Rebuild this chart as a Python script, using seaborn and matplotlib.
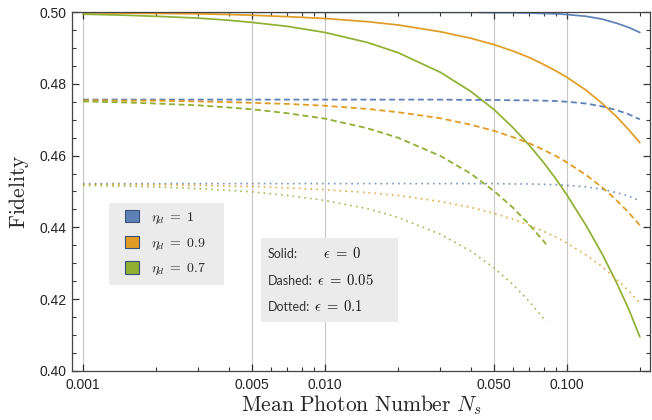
import numpy as np
import pandas as pd
import matplotlib
matplotlib.use("Agg")
import matplotlib.pyplot as plt
import seaborn as sns
from matplotlib.patches import Patch, Rectangle
from matplotlib.ticker import FixedLocator, FixedFormatter, NullFormatter

# ---------------- data ----------------
N_full = [0.001, 0.0015, 0.002, 0.003, 0.004, 0.005, 0.007, 0.01, 0.015, 0.02, 0.03, 0.04,
          0.05, 0.06, 0.07, 0.08, 0.09, 0.1, 0.12, 0.14, 0.16, 0.18, 0.2]
N_short = [0.001, 0.0015, 0.002, 0.003, 0.004, 0.005, 0.007, 0.01, 0.015, 0.02, 0.03, 0.04,
           0.05, 0.06, 0.07, 0.08, 0.082]

# eps = 0 (solid)
F_eta1_eps0 = [0.4999, 0.4999, 0.4999, 0.4999, 0.4999, 0.4999, 0.4999, 0.4999, 0.4999, 0.4999, 0.4999, 0.4999,
               0.4998, 0.4998, 0.4997, 0.4996, 0.4995, 0.4993, 0.4988, 0.4980, 0.4969, 0.4957, 0.4943]
F_eta09_eps0 = [0.4998, 0.4997, 0.4996, 0.4995, 0.4993, 0.4991, 0.4987, 0.4982, 0.4973, 0.4964, 0.4945, 0.4927,
                0.4909, 0.4891, 0.4873, 0.4854, 0.4836, 0.4818, 0.4782, 0.4745, 0.4709, 0.4672, 0.4636]
F_eta07_eps0 = [0.4994, 0.4991, 0.4988, 0.4983, 0.4977, 0.4971, 0.4960, 0.4943, 0.4915, 0.4887, 0.4832, 0.4779,
                0.4728, 0.4677, 0.4628, 0.4581, 0.4535, 0.4490, 0.4405, 0.4325, 0.4247, 0.4172, 0.4095]
# eps = 0.05 (dashed)
F_eta1_eps005 = [0.4756, 0.4756, 0.4756, 0.4756, 0.4756, 0.4756, 0.4756, 0.4756, 0.4756, 0.4756, 0.4756, 0.4755,
                 0.4755, 0.4754, 0.4754, 0.4753, 0.4752, 0.4750, 0.4745, 0.4737, 0.4727, 0.4715, 0.4701]
F_eta09_eps005 = [0.4754, 0.4753, 0.4753, 0.4751, 0.4749, 0.4747, 0.4744, 0.4739, 0.4730, 0.4721, 0.4704, 0.4686,
                  0.4669, 0.4651, 0.4634, 0.4616, 0.4599, 0.4581, 0.4546, 0.4511, 0.4476, 0.4441, 0.4406]
F_eta07_eps005 = [0.4751, 0.4748, 0.4745, 0.4740, 0.4734, 0.4729, 0.4718, 0.4703, 0.4676, 0.4650, 0.4599, 0.4550,
                  0.4501, 0.4454, 0.4407, 0.4362, 0.4353]
# eps = 0.1 (dotted)
F_eta1_eps01 = [0.4522, 0.4522, 0.4522, 0.4522, 0.4522, 0.4522, 0.4522, 0.4522, 0.4522, 0.4522, 0.4522, 0.4522,
                0.4522, 0.4521, 0.4521, 0.4520, 0.4519, 0.4517, 0.4513, 0.4506, 0.4497, 0.4487, 0.4474]
F_eta09_eps01 = [0.4520, 0.4520, 0.4519, 0.4517, 0.4515, 0.4514, 0.4510, 0.4505, 0.4497, 0.4489, 0.4472, 0.4456,
                 0.4439, 0.4422, 0.4406, 0.4389, 0.4373, 0.4356, 0.4323, 0.4290, 0.4256, 0.4223, 0.4190]
F_eta07_eps01 = [0.4517, 0.4515, 0.4513, 0.4508, 0.4503, 0.4499, 0.4489, 0.4475, 0.4452, 0.4428, 0.4381, 0.4334,
                 0.4287, 0.4240, 0.4193, 0.4146, 0.4137]

eta_labels = ["1", "0.9", "0.7"]
eps_labels = ["0", "0.05", "0.1"]
colors = ["#5E81B5", "#E19C24", "#8FB032"]

curves = {
    ("1", "0"): (N_full, F_eta1_eps0),
    ("0.9", "0"): (N_full, F_eta09_eps0),
    ("0.7", "0"): (N_full, F_eta07_eps0),
    ("1", "0.05"): (N_full, F_eta1_eps005),
    ("0.9", "0.05"): (N_full, F_eta09_eps005),
    ("0.7", "0.05"): (N_short, F_eta07_eps005),
    ("1", "0.1"): (N_full, F_eta1_eps01),
    ("0.9", "0.1"): (N_full, F_eta09_eps01),
    ("0.7", "0.1"): (N_short, F_eta07_eps01),
}
rows = []
for (eta, eps), (xs, ys) in curves.items():
    for x, y in zip(xs, ys):
        rows.append({"N": x, "F": y, "eta": eta, "eps": eps})
df = pd.DataFrame(rows)

# ---------------- style ----------------
sns.set_style("ticks")
plt.rcParams["mathtext.fontset"] = "cm"
plt.rcParams["font.family"] = ["Liberation Sans", "DejaVu Sans"]

fig = plt.figure(figsize=(6.52, 4.20), dpi=100)
ax = fig.add_axes([72 / 652, 49 / 420, 578 / 652, 359 / 420])
ax.set_xscale("log")

styles = {
    "0": dict(linestyle="-", linewidth=1.25, alpha=1.0),
    "0.05": dict(linestyle=(0, (3.3, 2.0)), linewidth=1.3, alpha=1.0),
    "0.1": dict(linestyle=(0, (1.0, 2.5)), linewidth=1.2, alpha=0.85),
}
for eps in eps_labels:
    sub = df[df["eps"] == eps]
    sns.lineplot(data=sub, x="N", y="F", hue="eta", hue_order=eta_labels,
                 palette=colors, estimator=None, sort=True, legend=False,
                 ax=ax, dash_capstyle="butt", **styles[eps])

ax.set_xlim(0.000901, 0.2203)
ax.set_ylim(0.40, 0.50)

# ticks
ax.xaxis.set_major_locator(FixedLocator([0.001, 0.005, 0.01, 0.05, 0.1]))
ax.xaxis.set_major_formatter(FixedFormatter(["0.001", "0.005", "0.010", "0.050", "0.100"]))
ax.xaxis.set_minor_locator(FixedLocator([0.002, 0.003, 0.004, 0.006, 0.007, 0.008, 0.009,
                                         0.02, 0.03, 0.04, 0.06, 0.07, 0.08, 0.09, 0.2]))
ax.xaxis.set_minor_formatter(NullFormatter())
ax.yaxis.set_major_locator(FixedLocator([0.40, 0.42, 0.44, 0.46, 0.48, 0.50]))
ax.yaxis.set_major_formatter(FixedFormatter(["0.40", "0.42", "0.44", "0.46", "0.48", "0.50"]))
ax.yaxis.set_minor_locator(FixedLocator(list(np.arange(0.405, 0.5, 0.005))))
ax.tick_params(which="both", direction="in", top=True, right=True, color="#333333",
               labelsize=10, labelcolor="#222222")
ax.tick_params(which="major", length=5, width=0.9)
ax.tick_params(which="minor", length=3, width=0.8)
ax.tick_params(axis="x", pad=5)
ax.tick_params(axis="y", pad=4)

ax.grid(axis="x", which="major", color="#c8c8c8", linewidth=0.8)
ax.set_axisbelow(True)
for s in ax.spines.values():
    s.set_color("#444444")
    s.set_linewidth(0.9)

ax.set_xlabel(r"$\mathrm{Mean\ Photon\ Number}\ N_s$", fontsize=15.5, labelpad=1)
ax.set_ylabel(r"$\mathrm{Fidelity}$", fontsize=15.5, labelpad=6)


def fx(px):
    return (px - 72) / 578


def fy(py):
    return (371 - py) / 359


# legend 1 : colours
ax.add_patch(Rectangle((fx(109), fy(285)), fx(224) - fx(109), fy(203) - fy(285),
                       transform=ax.transAxes, facecolor="#EBEBEB", edgecolor="none", zorder=4.5))
handles = [Patch(facecolor=c, edgecolor="#3a4e7a", linewidth=0.8) for c in colors]
labels = [r"$\eta_d\;=\;1$", r"$\eta_d\;=\;0.9$", r"$\eta_d\;=\;0.7$"]
leg = ax.legend(handles, labels, loc="upper left", bbox_to_anchor=(fx(125), fy(210)),
                borderaxespad=0, borderpad=0, frameon=False, fontsize=10, handlelength=1.0,
                handleheight=1.0, labelspacing=0.68, handletextpad=0.85)
leg.set_zorder(6)

# legend 2 : line styles
ax.add_patch(Rectangle((fx(261), fy(322)), fx(398) - fx(261), fy(238) - fy(322),
                       transform=ax.transAxes, facecolor="#EBEBEB", edgecolor="none", zorder=5))
for name, eps, base, ex in [("Solid:", "0", 258, 323), ("Dashed:", "0.05", 285, 317),
                            ("Dotted:", "0.1", 311, 314)]:
    ax.text(fx(268), fy(base), name, transform=ax.transAxes, fontsize=9,
            family=["Lato", "DejaVu Sans"], fontweight="normal", va="baseline", ha="left",
            zorder=6, color="#333333")
    ax.text(fx(ex), fy(base), r"$\epsilon\;=\;%s$" % eps, transform=ax.transAxes, fontsize=10.5,
            va="baseline", ha="left", zorder=6, color="#111111")

fig.savefig("out.png", dpi=100)
